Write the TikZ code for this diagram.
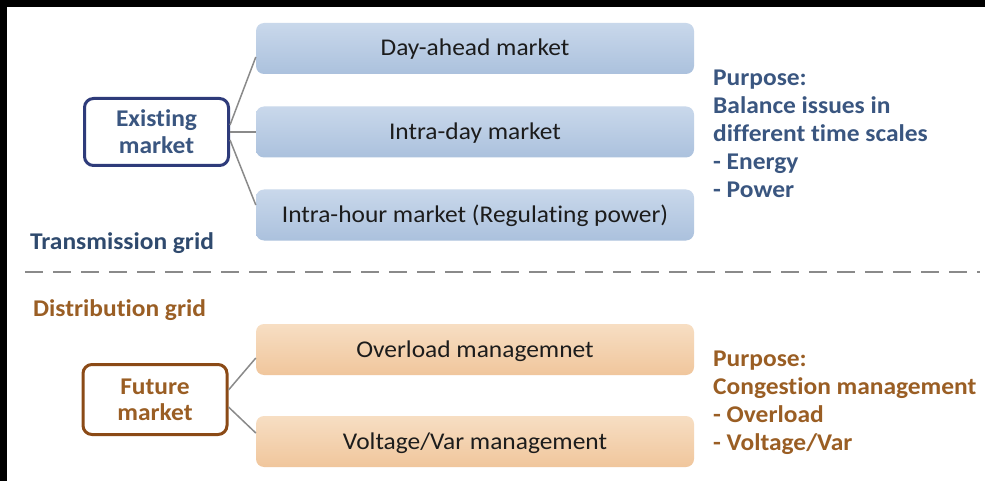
\documentclass[tikz,border=0pt]{standalone}
\usepackage{fontspec}
\setmainfont{Carlito}[FakeStretch=1.06, Ligatures=NoCommon]
\definecolor{bluetop}{HTML}{C9D8EB}
\definecolor{bluebot}{HTML}{ABC1DD}
\definecolor{orgtop}{HTML}{F7DEC3}
\definecolor{orgbot}{HTML}{F0C69C}
\definecolor{navy}{HTML}{2E3B7A}
\definecolor{bluetext}{HTML}{3A5680}
\definecolor{gridblue}{HTML}{2F4A6E}
\definecolor{brownline}{HTML}{8B4A16}
\definecolor{browntext}{HTML}{9A5E24}
\definecolor{conn}{HTML}{8A8A8A}
\definecolor{boxtext}{HTML}{1C1C1C}
\tikzset{
  mbox/.style={rounded corners=8pt, minimum width=438pt, minimum height=51pt, inner sep=0pt,
    text height=15pt, text depth=0pt,
    font=\fontsize{24}{28}\selectfont, text=boxtext},
  bluebox/.style={mbox, top color=bluetop, bottom color=bluebot},
  orgbox/.style={mbox, top color=orgtop, bottom color=orgbot},
  rootbox/.style={draw, line width=3pt, rounded corners=9pt, fill=white, inner sep=0pt,
    align=center, font=\bfseries\fontsize{24}{27}\selectfont},
  conline/.style={draw=conn, line width=1.5pt},
  lbl/.style={inner sep=0pt, font=\bfseries\fontsize{24}{28}\selectfont, align=left},
}
\begin{document}
\begin{tikzpicture}[x=1pt,y=-1pt]
\useasboundingbox (0,0) rectangle (985,481);
\fill[white] (0,0) rectangle (985,481);
\fill[black] (0,0) rectangle (985,7);
\fill[black] (0,0) rectangle (7,481);

% transmission grid
\node[bluebox] (day) at (475,48.5) {Day-ahead market};
\node[bluebox] (intraday) at (475,132) {Intra-day market};
\node[bluebox] (intrahour) at (475,215) {Intra-hour market (Regulating power)};
\node[rootbox, draw=navy, text=bluetext, minimum width=144pt, minimum height=67pt] (exist) at (156.5,132) {Existing\\market};

\draw[conline] ([yshift=7pt]exist.east) -- ([yshift=-8.5pt]day.west);
\draw[conline] (exist.east) -- (intraday.west);
\draw[conline] ([yshift=-8pt]exist.east) -- ([yshift=10pt]intrahour.west);

\node[lbl, text=bluetext, anchor=north west] (purp1) at (713,69.5)
  {Purpose:\\Balance issues in\\different time scales\\- Energy\\- Power};
\node[lbl, text=gridblue, anchor=base west] (tgrid) at (30,249) {Transmission grid};

% separator
\coordinate (sepL) at (25,272);
\coordinate (sepR) at (980,272);
\draw[draw=conn, line width=2pt, dash pattern=on 18pt off 10pt] (sepL) -- (sepR);

% distribution grid
\node[lbl, text=browntext, anchor=base west] (dgrid) at (33,316) {Distribution grid};
\node[orgbox] (overload) at (475,349.5) {Overload managemnet};
\node[orgbox] (voltvar) at (475,441.5) {Voltage/Var management};
\node[rootbox, draw=brownline, text=browntext, minimum width=144pt, minimum height=70pt, font=\bfseries\fontsize{24}{26}\selectfont] (future) at (155,399.5) {Future\\market};

\draw[conline] ([yshift=9.5pt]future.east) -- ([yshift=-8.5pt]overload.west);
\draw[conline] ([yshift=-7.5pt]future.east) -- ([yshift=8.5pt]voltvar.west);

\node[lbl, text=browntext, anchor=north west] (purp2) at (713,351)
  {Purpose:\\Congestion management\\- Overload\\- Voltage/Var};
\end{tikzpicture}
\end{document}
